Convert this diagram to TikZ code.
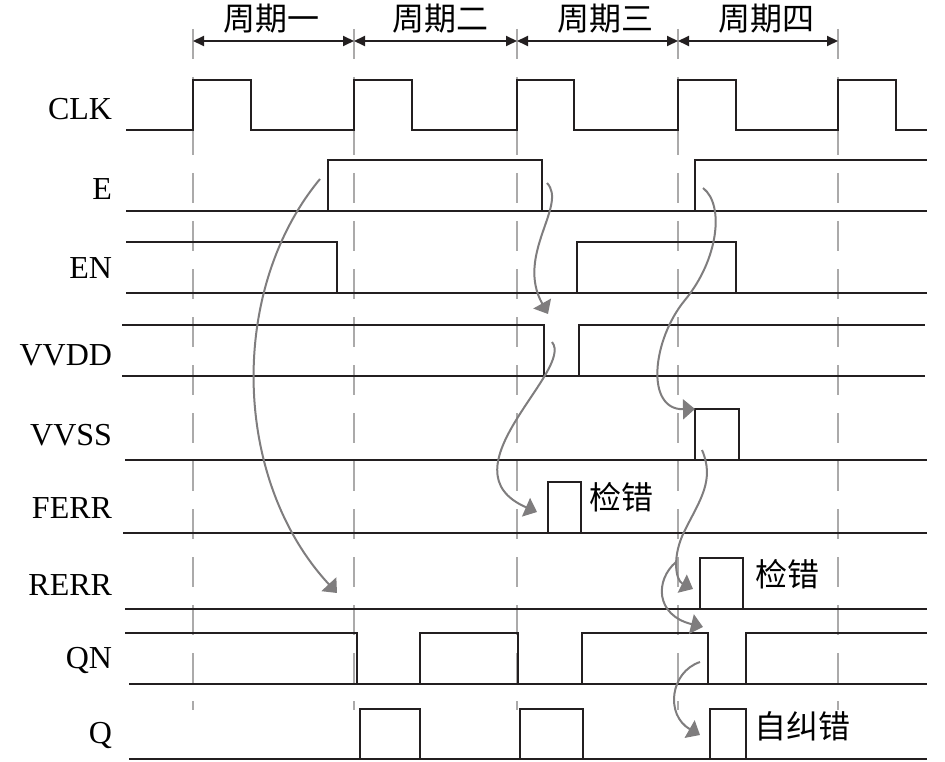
\documentclass[tikz,border=0pt]{standalone}
\usepackage{fontspec}
\setmainfont{Liberation Serif}
\newfontfamily\cjk{Noto Sans CJK SC}
\newcommand*{\labelfont}{\fontsize{32}{38}\selectfont}
\newcommand*{\notefont}{\cjk\fontsize{32}{38}\selectfont}
\definecolor{guidegrey}{cmyk}{0.00,0.00,0.00,0.38}
\definecolor{flowgrey}{cmyk}{0.00,0.00,0.00,0.58}
\definecolor{black}{cmyk}{0.00,0.00,0.00,1.00}
\usepackage{tikz}
\usetikzlibrary{arrows.meta}
\tikzstyle{base}=[x=1pt, y=-1pt, inner sep=0pt, outer sep=0pt]
\tikzstyle{signal}=[black, line width=2.5pt]
\tikzstyle{guide}=[guidegrey, line width=2pt, dash pattern=on 30pt off 18pt]
\tikzstyle{periodarrow}=[black, line width=2pt, {Triangle[length=11pt,width=10pt]}-{Triangle[length=11pt,width=10pt]}]
\tikzstyle{flow}=[flowgrey, line width=2pt, -{Triangle[length=12pt,width=20pt]}]
\tikzstyle{siglabel}=[anchor=base east, font=\labelfont]
\tikzstyle{note}=[font=\notefont]

\begin{document}
\begin{tikzpicture}[base]
    \path [use as bounding box] (0,0) rectangle (945,762);
        \foreach \x in {193,354,517,678,838}
            \draw [guide] (\x,29) -- (\x,710);
        \coordinate (t1) at (193,41);
        \coordinate (t2) at (354,41);
        \coordinate (t3) at (517,41);
        \coordinate (t4) at (678,41);
        \coordinate (t5) at (838,41);
        \draw [periodarrow] (t1) -- (t2);
        \draw [periodarrow] (t2) -- (t3);
        \draw [periodarrow] (t3) -- (t4);
        \draw [periodarrow] (t4) -- (t5);
        \node [note] (periodOne) at (271.5,19) {周期一};
        \node [note] (periodTwo) at (440,19) {周期二};
        \node [note] (periodThree) at (605,19) {周期三};
        \node [note] (periodFour) at (766,19) {周期四};

        \draw [signal] (126,130) -- (193,130) -- (193,80) -- (251,80) -- (251,130) -- (354,130) -- (354,80) -- (412,80) -- (412,130)
            -- (517,130) -- (517,80) -- (574,80) -- (574,130) -- (678,130) -- (678,80) -- (736,80) -- (736,130)
            -- (838,130) -- (838,80) -- (896,80) -- (896,130) -- (927,130);
        \draw [signal] (126,211) -- (927,211);
        \draw [signal] (328,211) -- (328,160) -- (542,160) -- (542,211);
        \draw [signal] (695,211) -- (695,160) -- (927,160);
        \draw [signal] (126,293) -- (927,293);
        \draw [signal] (126,242) -- (337,242) -- (337,293);
        \draw [signal] (577,293) -- (577,242) -- (736,242) -- (736,293);
        \draw [signal] (122,376) -- (925,376);
        \draw [signal] (122,325) -- (544,325) -- (544,376);
        \draw [signal] (579,376) -- (579,325) -- (925,325);
        \draw [signal] (125,460) -- (927,460);
        \draw [signal] (695,460) -- (695,409) -- (739,409) -- (739,460);
        \draw [signal] (123,533) -- (927,533);
        \draw [signal] (548,533) -- (548,482) -- (581,482) -- (581,533);
        \draw [signal] (125,609) -- (927,609);
        \draw [signal] (700,609) -- (700,558) -- (743,558) -- (743,609);
        \draw [signal] (129,684) -- (927,684);
        \draw [signal] (125,633) -- (357,633) -- (357,684);
        \draw [signal] (420,684) -- (420,633) -- (518,633) -- (518,684);
        \draw [signal] (582,684) -- (582,633) -- (708,633) -- (708,684);
        \draw [signal] (746,684) -- (746,633) -- (927,633);
        \draw [signal] (129,759) -- (927,759);
        \draw [signal] (360,759) -- (360,709) -- (420,709) -- (420,759);
        \draw [signal] (520,759) -- (520,709) -- (583,709) -- (583,759);
        \draw [signal] (710,759) -- (710,709) -- (746,709) -- (746,759);

        \node [siglabel] (clk) at (112,120) {CLK};
        \node [siglabel] (e) at (112,200) {E};
        \node [siglabel] (en) at (112,278) {EN};
        \node [siglabel] (vvdd) at (112,365) {VVDD};
        \node [siglabel] (vvss) at (112,445) {VVSS};
        \node [siglabel] (ferr) at (112,518) {FERR};
        \node [siglabel] (rerr) at (112,595) {RERR};
        \node [siglabel] (qn) at (112,668) {QN};
        \node [siglabel] (q) at (112,743) {Q};

        \coordinate (eUp) at (320,179);
        \coordinate (rerrLeft) at (337,593);
        \coordinate (eDown) at (547,183);
        \coordinate (vvddDip) at (548,314);
        \coordinate (vvddUp) at (552,342);
        \coordinate (ferrIn) at (537,512);
        \coordinate (eUpTwo) at (703,188);
        \coordinate (vvssIn) at (695,409);
        \coordinate (vvssDown) at (702,450);
        \coordinate (rerrIn) at (693,589);
        \coordinate (rerrHook) at (676,562);
        \coordinate (qnDip) at (703,627);
        \coordinate (qnDown) at (700,662);
        \coordinate (qIn) at (700,735);
        \draw [flow] (eUp) .. controls (228,290) and (232,480) .. (rerrLeft);
        \draw [flow] (eDown) .. controls (568,205) and (515,255) .. (vvddDip);
        \draw [flow] (vvddUp) .. controls (575,370) and (440,470) .. (ferrIn);
        \draw [flow] (eUpTwo) .. controls (725,205) and (718,260) .. (685,300) .. controls (652,340) and (645,410) .. (vvssIn);
        \draw [flow] (vvssDown) .. controls (715,480) and (700,500) .. (685,530) .. controls (672,555) and (675,580) .. (rerrIn);
        \draw [flow] (rerrHook) .. controls (655,580) and (655,615) .. (qnDip);
        \draw [flow] (qnDown) .. controls (670,672) and (665,715) .. (qIn);

        \node [note] (ferrNote) at (621.5,497.5) {检错};
        \node [note] (rerrNote) at (787.5,574) {检错};
        \node [note] (qNote) at (802,726) {自纠错};
    \end{tikzpicture}
\end{document}
